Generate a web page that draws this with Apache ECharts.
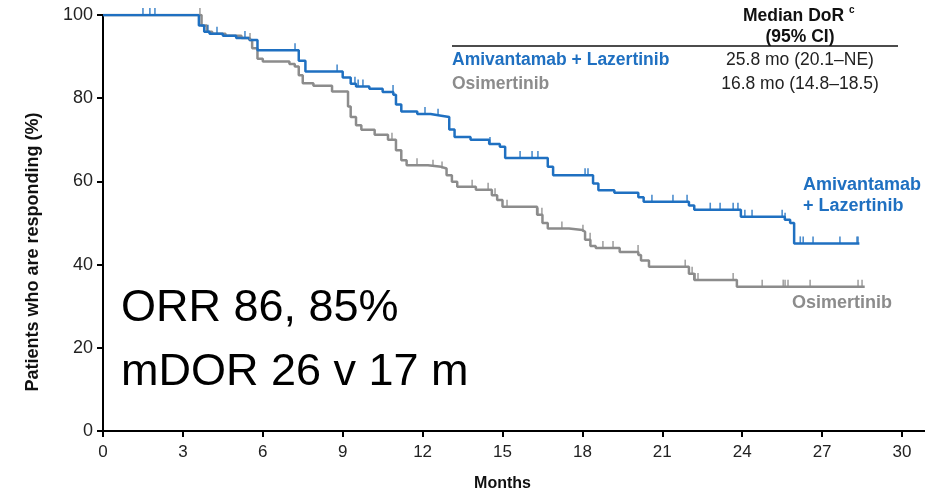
<!DOCTYPE html>
<html>
<head>
<meta charset="utf-8">
<script src="https://cdn.jsdelivr.net/npm/echarts@6/dist/echarts.min.js"></script>
<style>
  html, body { margin: 0; padding: 0; background: #fff; }
  #chart { width: 948px; height: 493px; }
</style>
</head>
<body>
<div id="chart"></div>
<script>
// Kaplan–Meier duration of response, months vs. % still responding
const armNames = ['Amivantamab + Lazertinib', 'Osimertinib'];
const medianText = ['25.8 mo (20.1–NE)', '16.8 mo (14.8–18.5)'];

// event times (months) and percentage responding after each step
const amiTime = [0, 3.6, 3.8, 4.0, 4.5, 5.0, 5.5, 5.8, 7.35, 7.6, 9.0, 9.3, 9.5, 10.0, 10.5, 10.9,
  11.0, 11.2, 11.8, 12.3, 12.7, 13.0, 13.2, 13.8, 14.5, 14.9, 15.1, 16.7, 16.9, 18.4, 18.6,
  19.2, 20.1, 20.3, 22.0, 22.2, 23.95, 25.6, 25.8, 25.95, 28.4];
const amiPct = [100, 97.5, 96, 95.5, 95, 94.5, 94, 91.5, 89, 86.4, 85, 83.5, 82.8, 82.3, 81.5, 80.8,
  78.5, 76.8, 76.2, 75.8, 75.5, 72.5, 70.7, 70, 69, 68.3, 65.6, 63.5, 61.5, 59.5, 57.9,
  57.3, 56.2, 55.1, 54.2, 53.2, 51.5, 50.8, 50, 45.1, 45.1];

const osiTime = [0, 3.7, 3.9, 4.1, 4.6, 5.2, 5.5, 5.6, 5.8, 6.0, 7.0, 7.2, 7.35, 7.5, 7.9, 8.6,
  9.2, 9.3, 9.5, 9.7, 10.2, 10.7, 11.0, 11.2, 11.4, 12.2, 12.7, 12.9, 13.1, 13.3, 14.0, 14.6,
  14.8, 15.0, 16.3, 16.5, 16.7, 17.5, 18.0, 18.1, 18.3, 18.5, 19.4, 20.1, 20.2, 20.5,
  22.0, 22.2, 23.8, 28.6];
const osiPct = [100, 97.5, 96, 95.5, 95, 94.5, 94, 92, 89.5, 88.8, 88.2, 87.6, 85.5, 83.6, 83.0, 81.6,
  78, 75.5, 73.5, 72.4, 71.2, 70, 67.5, 65.1, 63.9, 63.5, 63.1, 61.5, 59.9, 58.7, 58, 56.7,
  55.5, 53.9, 52, 50, 48.7, 48.3, 47.9, 46, 44.5, 44, 43, 42.3, 41, 39.5,
  37.8, 36.3, 34.7, 34.7];

// censored observations (months)
const amiCensor = [1.5, 1.76, 1.95, 3.94, 4.28, 5.33, 7.21, 8.79, 9.46, 9.58, 9.76, 10.89, 12.09,
  12.58, 14.53, 15.66, 16.11, 16.33, 18.1, 18.21, 20.61, 21.4, 21.93, 22.8, 23.17, 23.66, 23.84,
  24.1, 24.37, 25.5, 25.61, 26.18, 26.29, 26.66, 27.67, 28.31, 28.35];
const osiCensor = [3.64, 5.52, 10.85, 11.79, 12.39, 12.73, 13.86, 14.46, 14.72, 15.17, 16.33,
  16.48, 17.23, 18.02, 18.29, 18.77, 19.15, 20.09, 21.86, 22.12, 22.23, 22.34, 23.66, 23.81,
  24.75, 25.54, 25.61, 25.72, 26.55, 28.35, 28.5];

const xTicks = [0, 3, 6, 9, 12, 15, 18, 21, 24, 27, 30];
const yTicks = [0, 20, 40, 60, 80, 100];

const BLUE = '#1f70c1';
const GREY = '#8c8c8c';
const FONT = '"Liberation Sans", Arial, sans-serif';

function pairs(t, p) { return t.map((v, i) => [v, p[i]]); }
// percentage still responding at time t (last step at or before t)
function pctAt(t, times, pcts) {
  let v = pcts[0];
  for (let i = 0; i < times.length; i++) { if (times[i] <= t) v = pcts[i]; else break; }
  return v;
}
function censorPoints(c, times, pcts) { return c.map(t => [t, pctAt(t, times, pcts)]); }

const chart = echarts.init(document.getElementById('chart'), null, { renderer: 'canvas' });

function kmLine(name, data, color) {
  return {
    name, type: 'line', step: 'end', data, showSymbol: false, silent: true,
    lineStyle: { color, width: 2.5 }, z: 3
  };
}
function censorMarks(name, data, color) {
  return {
    name: name + ' censored', type: 'scatter', data, silent: true,
    symbol: 'rect', symbolSize: [1.6, 7], symbolOffset: [0, -3.5],
    itemStyle: { color }, z: 4
  };
}

chart.setOption({
  animation: false,
  backgroundColor: '#fff',
  grid: { left: 103, right: 46, top: 15, bottom: 62, containLabel: false, outerBoundsMode: 'none' },
  xAxis: {
    type: 'value', min: xTicks[0], max: xTicks[xTicks.length - 1], interval: 3,
    name: 'Months', nameLocation: 'middle', nameGap: 45,
    nameTextStyle: { fontFamily: FONT, fontSize: 16, fontWeight: 'bold', color: '#111' },
    axisLine: { show: true, lineStyle: { color: '#000', width: 2 } },
    axisTick: { show: true, length: 6, lineStyle: { color: '#000', width: 2 } },
    axisLabel: { fontFamily: FONT, fontSize: 17, color: '#222', margin: 13 },
    splitLine: { show: false }
  },
  yAxis: {
    type: 'value', min: yTicks[0], max: yTicks[yTicks.length - 1], interval: 20,
    axisLine: { show: true, lineStyle: { color: '#000', width: 2 } },
    axisTick: { show: true, length: 6, lineStyle: { color: '#000', width: 2 } },
    axisLabel: { fontFamily: FONT, fontSize: 18, color: '#222', margin: 10 },
    splitLine: { show: false }
  },
  series: [
    kmLine(armNames[1], pairs(osiTime, osiPct), GREY),
    censorMarks(armNames[1], censorPoints(osiCensor, osiTime, osiPct), GREY),
    kmLine(armNames[0], pairs(amiTime, amiPct), BLUE),
    censorMarks(armNames[0], censorPoints(amiCensor, amiTime, amiPct), BLUE)
  ]
});

// x-axis line continues a little past the last tick
const end = chart.convertToPixel({ gridIndex: 0 }, [30, 0]);
const textBase = { fontFamily: FONT };
chart.setOption({
  graphic: [
    { type: 'line', shape: { x1: end[0], y1: end[1], x2: 925, y2: end[1] },
      style: { stroke: '#000', lineWidth: 2 }, z: 10 },
    // y-axis title
    { type: 'text', x: 33, y: 252, rotation: Math.PI / 2,
      style: Object.assign({ text: 'Patients who are responding (%)', fontSize: 18, fontWeight: 'bold', fill: '#111', align: 'center', verticalAlign: 'middle' }, textBase) },
    // median duration table
    { type: 'text', left: 743, top: 7, style: Object.assign({ text: 'Median DoR', fontSize: 17.5, fontWeight: 'bold', fill: '#111' }, textBase) },
    { type: 'text', left: 849, top: 5, style: Object.assign({ text: 'c', fontSize: 10, fontWeight: 'bold', fill: '#111' }, textBase) },
    { type: 'text', x: 800, y: 37, style: Object.assign({ text: '(95% CI)', fontSize: 17.5, fontWeight: 'bold', fill: '#111', align: 'center', verticalAlign: 'middle' }, textBase) },
    { type: 'line', shape: { x1: 452, y1: 46, x2: 898, y2: 46 }, style: { stroke: '#111', lineWidth: 1.5 } },
    { type: 'text', x: 452, y: 60, style: Object.assign({ text: armNames[0], fontSize: 17.5, fontWeight: 'bold', fill: BLUE, verticalAlign: 'middle' }, textBase) },
    { type: 'text', x: 452, y: 84, style: Object.assign({ text: armNames[1], fontSize: 17.5, fontWeight: 'bold', fill: GREY, verticalAlign: 'middle' }, textBase) },
    { type: 'text', x: 800, y: 60, style: Object.assign({ text: medianText[0], fontSize: 17.5, fill: '#222', align: 'center', verticalAlign: 'middle' }, textBase) },
    { type: 'text', x: 800, y: 84, style: Object.assign({ text: medianText[1], fontSize: 17.5, fill: '#222', align: 'center', verticalAlign: 'middle' }, textBase) },
    // curve labels
    { type: 'text', x: 803, y: 185, style: Object.assign({ text: 'Amivantamab', fontSize: 18, fontWeight: 'bold', fill: BLUE, verticalAlign: 'middle' }, textBase) },
    { type: 'text', x: 803, y: 206, style: Object.assign({ text: '+ Lazertinib', fontSize: 18, fontWeight: 'bold', fill: BLUE, verticalAlign: 'middle' }, textBase) },
    { type: 'text', x: 792, y: 303, style: Object.assign({ text: 'Osimertinib', fontSize: 18, fontWeight: 'bold', fill: GREY, verticalAlign: 'middle' }, textBase) },
    // summary
    { type: 'text', x: 121, y: 309, style: Object.assign({ text: 'ORR 86, 85%', fontSize: 45, fill: '#000', verticalAlign: 'middle' }, textBase) },
    { type: 'text', x: 121, y: 373, style: Object.assign({ text: 'mDOR 26 v 17 m', fontSize: 45, fill: '#000', verticalAlign: 'middle' }, textBase) }
  ]
});
</script>
</body>
</html>
